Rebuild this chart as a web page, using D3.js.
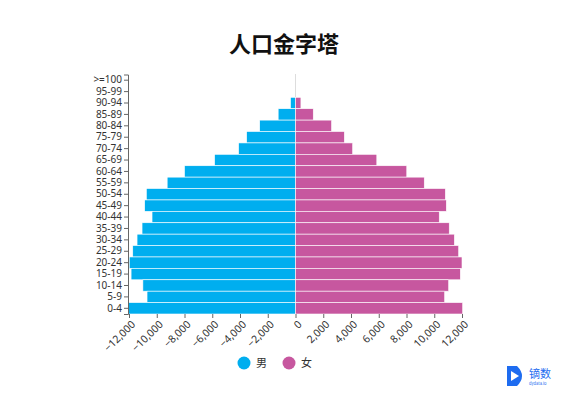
<!DOCTYPE html>
<html>
<head>
<meta charset="utf-8">
<script src="https://cdn.jsdelivr.net/npm/d3@7"></script>
<style>
body { margin: 0; background: #fff; font-family: "Noto Sans CJK SC", "Noto Sans", sans-serif; }
</style>
</head>
<body>
<svg id="chart" width="568" height="408"></svg>
<script>
// age groups, top to bottom
var ages = ['>=100','95-99','90-94','85-89','80-84','75-79','70-74','65-69','60-64','55-59','50-54','45-49','40-44','35-39','30-34','25-29','20-24','15-19','10-14','5-9','0-4'];
var male = [0, 0, 360, 1250, 2580, 3520, 4100, 5830, 8000, 9250, 10750, 10870, 10340, 11060, 11420, 11730, 11980, 11850, 11000, 10700, 12050];
var female = [0, 0, 390, 1280, 2600, 3520, 4120, 5860, 8020, 9280, 10800, 10870, 10360, 11080, 11450, 11760, 12000, 11880, 11040, 10750, 12050];
var xTicks = [-12000,-10000,-8000,-6000,-4000,-2000,0,2000,4000,6000,8000,10000,12000];

var svg = d3.select('#chart');

var x = d3.scaleLinear().domain([-12000, 12000]).range([129, 462]);
var y = d3.scaleBand().domain(ages).range([74.5, 314]).paddingInner(0);

svg.append('text').attr('x', 284).attr('y', 52).attr('text-anchor', 'middle')
    .attr('font-size', 22).attr('font-weight', 'bold').attr('fill', '#111').text('人口金字塔');

// zero line
svg.append('line').attr('x1', x(0)).attr('x2', x(0)).attr('y1', 74).attr('y2', 314)
    .attr('stroke', '#ddd');

svg.selectAll('.m').data(ages).enter().append('rect')
    .attr('x', function(d, i) { return x(-male[i]); })
    .attr('y', function(d) { return y(d); })
    .attr('width', function(d, i) { return x(0) - x(-male[i]); })
    .attr('height', y.bandwidth())
    .attr('fill', '#00aeef').attr('stroke', '#fff').attr('stroke-width', 0.6);

svg.selectAll('.f').data(ages).enter().append('rect')
    .attr('x', x(0))
    .attr('y', function(d) { return y(d); })
    .attr('width', function(d, i) { return x(female[i]) - x(0); })
    .attr('height', y.bandwidth())
    .attr('fill', '#c7579f').attr('stroke', '#fff').attr('stroke-width', 0.6);

var yAxis = svg.append('g').attr('transform', 'translate(128,0)')
    .call(d3.axisLeft(y).tickSize(4).tickPadding(2));
yAxis.selectAll('text').attr('font-size', 10).attr('fill', '#333').attr('font-family', 'Noto Sans, sans-serif');
yAxis.selectAll('line, path').attr('stroke', '#666');

var xAxis = svg.append('g').attr('transform', 'translate(0,314)')
    .call(d3.axisBottom(x).tickValues(xTicks).tickFormat(d3.format(',')).tickSize(4).tickSizeOuter(0));
xAxis.select('.domain').remove();
xAxis.selectAll('line').attr('stroke', '#666');
xAxis.selectAll('text').attr('font-size', 10.5).attr('fill', '#333').attr('font-family', 'Noto Sans, sans-serif')
    .attr('text-anchor', 'end').attr('dx', '-0.3em').attr('dy', '0.5em')
    .attr('transform', 'rotate(-45)');

// legend
var legend = [{name: '男', color: '#00aeef'}, {name: '女', color: '#c7579f'}];
var lg = svg.selectAll('.lg').data(legend).enter().append('g')
    .attr('transform', function(d, i) { return 'translate(' + (244 + i * 45) + ',363)'; });
lg.append('circle').attr('r', 6.5).attr('fill', function(d) { return d.color; });
lg.append('text').attr('x', 12).attr('y', 4).attr('font-size', 11).attr('fill', '#333').text(function(d) { return d.name; });

// logo
var logo = svg.append('g').attr('transform', 'translate(507,366)');
logo.append('path').attr('d', 'M0,0 L10,0 Q20,10 10,20 L0,20 Z').attr('fill', '#1e6cf0');
logo.append('path').attr('d', 'M4,5 L12,10 L4,15 Z').attr('fill', '#fff');
logo.append('text').attr('x', 22).attr('y', 12).attr('font-size', 11).attr('fill', '#1e6cf0').text('镝数');
logo.append('text').attr('x', 22).attr('y', 19).attr('font-size', 4).attr('fill', '#1e6cf0').text('dydata.io');
</script>
</body>
</html>
